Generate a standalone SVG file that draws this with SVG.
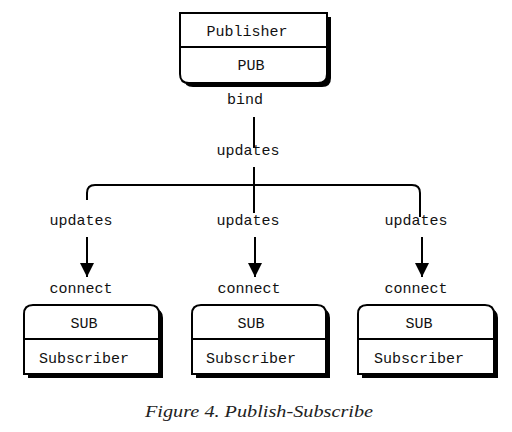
<svg xmlns="http://www.w3.org/2000/svg" width="512" height="432" viewBox="0 0 512 432">
<defs>
<style>
.t{font-family:"Liberation Mono","Courier New",monospace;font-size:15px;fill:#111;text-anchor:middle}
.box{fill:#fff;stroke:#000;stroke-width:2}
.sh{fill:#000}
.ln{fill:none;stroke:#000;stroke-width:2}
.cap{font-family:"Liberation Serif","Times New Roman",serif;font-style:italic;font-size:17px;fill:#222}
</style>
<marker id="ah" markerUnits="userSpaceOnUse" markerWidth="16" markerHeight="16" refX="14" refY="7" orient="auto">
<path d="M0,0 L14,7 L0,14 Z" fill="#000"/>
</marker>
</defs>
<rect width="512" height="432" fill="#fff"/>

<g id="connectors">
<path class="ln" d="M254,117 V148"/>
<path class="ln" d="M254,167 V213"/>
<path class="ln" d="M87,200 V193 Q87,185 95,185 H412 Q420,185 420,193 V217"/>
<path class="ln" d="M87,237 V277" marker-end="url(#ah)"/>
<path class="ln" d="M255,237 V277" marker-end="url(#ah)"/>
<path class="ln" d="M422,237 V277" marker-end="url(#ah)"/>
</g>

<g id="labels">
<text class="t" x="245" y="104">bind</text>
<text class="t" x="248" y="155">updates</text>
<text class="t" x="81" y="225">updates</text>
<text class="t" x="248" y="225">updates</text>
<text class="t" x="416" y="225">updates</text>
<text class="t" x="81" y="293">connect</text>
<text class="t" x="249" y="293">connect</text>
<text class="t" x="416" y="293">connect</text>
</g>

<g id="publisher">
<path class="sh" d="M184,17 H331 V78 Q331,87 322,87 H193 Q184,87 184,78 Z"/>
<path class="box" d="M180,13 H327 V74 Q327,83 318,83 H189 Q180,83 180,74 Z"/>
<line class="ln" x1="180" y1="47" x2="327" y2="47"/>
<text class="t" x="247" y="36">Publisher</text>
<text class="t" x="251" y="70">PUB</text>
</g>

<g id="sub1">
<path class="sh" d="M28,318 Q28,309 37,309 H154 Q163,309 163,318 V378 H28 Z"/>
<path class="box" d="M24,314 Q24,305 33,305 H150 Q159,305 159,314 V374 H24 Z"/>
<line class="ln" x1="24" y1="339" x2="159" y2="339"/>
<text class="t" x="84" y="328">SUB</text>
<text class="t" x="84" y="363">Subscriber</text>
</g>

<g id="sub2">
<path class="sh" d="M196,318 Q196,309 205,309 H321 Q330,309 330,318 V378 H196 Z"/>
<path class="box" d="M192,314 Q192,305 201,305 H317 Q326,305 326,314 V374 H192 Z"/>
<line class="ln" x1="192" y1="339" x2="326" y2="339"/>
<text class="t" x="251" y="328">SUB</text>
<text class="t" x="251" y="363">Subscriber</text>
</g>

<g id="sub3">
<path class="sh" d="M362,318 Q362,309 371,309 H489 Q498,309 498,318 V378 H362 Z"/>
<path class="box" d="M358,314 Q358,305 367,305 H485 Q494,305 494,314 V374 H358 Z"/>
<line class="ln" x1="358" y1="339" x2="494" y2="339"/>
<text class="t" x="419" y="328">SUB</text>
<text class="t" x="419" y="363">Subscriber</text>
</g>

<text class="cap" x="145" y="417" textLength="228" lengthAdjust="spacingAndGlyphs">Figure 4. Publish-Subscribe</text>
</svg>
